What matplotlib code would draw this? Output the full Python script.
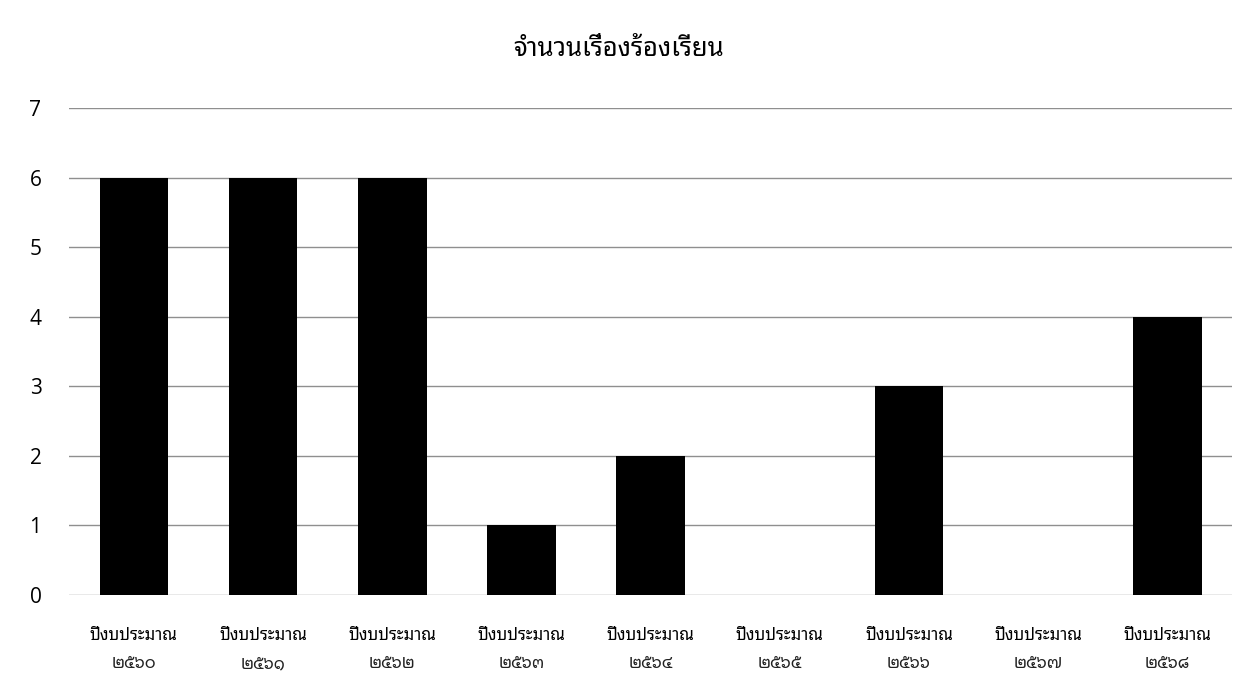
import matplotlib
matplotlib.use("Agg")
import matplotlib.pyplot as plt
from matplotlib.transforms import blended_transform_factory

label_top = ["ปีงบประมาณ"] * 9
label_years = ["๒๕๖๐", "๒๕๖๑", "๒๕๖๒", "๒๕๖๓", "๒๕๖๔", "๒๕๖๕", "๒๕๖๖", "๒๕๖๗", "๒๕๖๘"]
values = [6, 6, 6, 1, 2, 0, 3, 0, 4]
title = "จำนวนเรื่องร้องเรียน"
yticks = [0, 1, 2, 3, 4, 5, 6, 7]

thai = ['Noto Sans Thai Looped', 'Loma', 'DejaVu Sans']
plt.rcParams['font.family'] = thai

fig = plt.figure(figsize=(12.37, 6.9), dpi=100)
ax = fig.add_axes([0.056, 0.138, 0.94, 0.705])
x = list(range(len(values)))
ax.bar(x, values, width=0.53, color='black', zorder=3)
ax.set_xlim(-0.5, len(values) - 0.5)
ax.set_ylim(0, 7)
ax.set_yticks(yticks)
ax.set_yticklabels([str(t) for t in yticks], fontsize=15, family=['Open Sans', 'DejaVu Sans'])
ax.set_xticks(x)
ax.set_xticklabels(label_top, fontsize=12)
ax.grid(axis='y', color='#8f8f8f', linewidth=1.0, zorder=0)
for s in ax.spines.values():
    s.set_visible(False)
ax.tick_params(axis='x', length=0, pad=24)
ax.tick_params(axis='y', length=0, pad=20)
trans = blended_transform_factory(ax.transData, fig.transFigure)
for xi, yr in zip(x, label_years):
    ax.text(xi, 1 - 664 / 690, yr, transform=trans, ha='center', va='center',
            fontsize=12, fontweight='bold', color='#222222')
fig.text(0.5, 1 - 50 / 690, title, ha='center', va='center', fontsize=18.5)
fig.savefig("out.png", dpi=100, facecolor='white')
